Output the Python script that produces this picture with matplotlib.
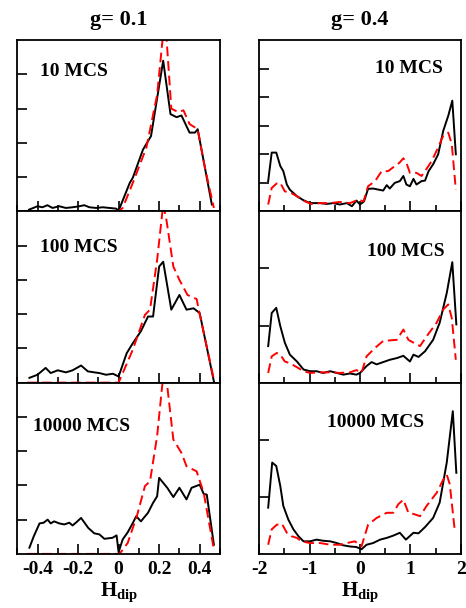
import matplotlib
matplotlib.use("Agg")
import matplotlib.pyplot as plt
from matplotlib.ticker import MultipleLocator, NullFormatter

plt.rcParams['font.family'] = ['Liberation Serif', 'DejaVu Serif']
plt.rcParams['font.weight'] = 'bold'
plt.rcParams['mathtext.fontset'] = 'custom'
plt.rcParams['mathtext.bf'] = 'Liberation Serif:bold'
plt.rcParams['mathtext.rm'] = 'Liberation Serif:bold'

# ---- data ----
titles = ["g= 0.1", "g= 0.4"]
labels = ["10 MCS", "100 MCS", "10000 MCS"]

# g = 0.1, 10 MCS
a1_bx = [-0.442, -0.40, -0.376, -0.351, -0.326, -0.293, -0.26, -0.227, -0.194, -0.169,
         -0.144, -0.111, -0.078, -0.045, -0.012, 0.0, 0.055, 0.07, 0.12, 0.16, 0.19,
         0.22, 0.256, 0.286, 0.31, 0.35, 0.377, 0.39, 0.426, 0.46]
a1_by = [0.05, 0.15, 0.12, 0.18, 0.10, 0.15, 0.10, 0.12, 0.15, 0.18,
         0.12, 0.10, 0.12, 0.10, 0.08, 0.02, 0.83, 0.98, 1.8, 2.2, 3.3,
         4.4, 2.84, 2.75, 2.8, 2.3, 2.3, 2.4, 1.27, 0.2]
a1_rx = [-0.45, 0.0, 0.02, 0.07, 0.137, 0.19, 0.22, 0.236, 0.26, 0.294, 0.32, 0.35,
         0.39, 0.426, 0.47]
a1_ry = [0.0, 0.0, 0.1, 0.83, 1.86, 3.4, 5.2, 5.1, 3.0, 2.9, 2.95, 2.55,
         2.4, 1.27, 0.1]

# g = 0.1, 100 MCS
a2_bx = [-0.44, -0.40, -0.36, -0.335, -0.30, -0.26, -0.227, -0.185, -0.152, -0.12,
         -0.095, -0.062, -0.028, 0.0, 0.04, 0.07, 0.11, 0.145, 0.17, 0.20, 0.22,
         0.26, 0.30, 0.335, 0.37, 0.40, 0.47]
a2_by = [0.14, 0.23, 0.43, 0.28, 0.36, 0.30, 0.36, 0.50, 0.33, 0.30,
         0.28, 0.23, 0.26, 0.18, 0.86, 1.15, 1.5, 1.93, 1.93, 3.39, 3.53,
         2.13, 2.56, 2.13, 2.17, 2.03, 0.04]
a2_rx = [-0.45, 0.0, 0.07, 0.13, 0.155, 0.19, 0.22, 0.236, 0.27, 0.30, 0.34, 0.385,
         0.40, 0.47]
a2_ry = [0.0, 0.0, 0.96, 1.98, 2.13, 3.58, 5.2, 4.75, 3.39, 3.0, 2.56, 2.44,
         2.0, 0.09]

# g = 0.1, 10000 MCS
a3_bx = [-0.44, -0.418, -0.39, -0.37, -0.35, -0.335, -0.318, -0.293, -0.268, -0.243,
         -0.227, -0.207, -0.185, -0.15, -0.12, -0.095, -0.07, -0.03, -0.01, 0.0,
         0.02, 0.045, 0.07, 0.087, 0.11, 0.145, 0.17, 0.19, 0.20, 0.24, 0.27,
         0.30, 0.335, 0.36, 0.40, 0.42, 0.435, 0.47]
a3_by = [0.18, 0.52, 0.89, 0.91, 1.0, 0.89, 0.95, 0.89, 0.86, 0.91,
         0.83, 0.93, 1.05, 0.76, 0.60, 0.57, 0.44, 0.47, 0.54, 0.05,
         0.42, 0.63, 0.90, 1.10, 0.95, 1.2, 1.49, 1.68, 2.22, 1.93, 1.66,
         1.93, 1.59, 1.93, 2.02, 1.75, 1.73, 0.27]
a3_rx = [-0.45, 0.005, 0.045, 0.09, 0.13, 0.155, 0.19, 0.22, 0.24, 0.27, 0.31,
         0.335, 0.385, 0.42, 0.47]
a3_ry = [0.0, 0.0, 0.32, 1.1, 1.98, 2.12, 3.44, 5.2, 4.9, 3.34, 2.95,
         2.56, 2.41, 1.78, 0.13]

# g = 0.4, 10 MCS
b1_bx = [-1.82, -1.75, -1.66, -1.58, -1.52, -1.45, -1.39, -1.25, -1.12, -0.99, -0.79,
         -0.66, -0.53, -0.40, -0.26, -0.16, -0.07, 0.0, 0.08, 0.16, 0.26, 0.46, 0.53,
         0.59, 0.69, 0.79, 0.86, 0.92, 0.99, 1.06, 1.12, 1.22, 1.29, 1.36, 1.45,
         1.55, 1.65, 1.75, 1.83, 1.90]
b1_by = [1.06, 2.06, 2.06, 1.59, 1.41, 0.94, 0.76, 0.53, 0.39, 0.29, 0.29,
         0.26, 0.29, 0.24, 0.29, 0.18, 0.38, 0.24, 0.35, 0.79, 0.80, 0.73, 0.92,
         0.80, 1.0, 1.06, 1.24, 0.94, 0.88, 1.14, 0.94, 1.06, 1.08, 1.41, 1.65,
         2.0, 2.82, 3.35, 3.88, 2.0]
b1_rx = [-1.82, -1.75, -1.65, -1.58, -1.49, -1.39, -1.25, -1.09, -0.96, -0.79, -0.59,
         -0.40, -0.20, -0.03, 0.07, 0.16, 0.30, 0.43, 0.56, 0.69, 0.78, 0.86, 0.92,
         0.99, 1.12, 1.22, 1.29, 1.42, 1.55, 1.65, 1.75, 1.82, 1.90]
b1_ry = [0.24, 0.82, 0.98, 1.0, 0.70, 0.67, 0.53, 0.35, 0.26, 0.29, 0.29,
         0.33, 0.29, 0.41, 0.35, 0.88, 1.06, 1.41, 1.41, 1.59, 1.70, 1.86, 1.70,
         1.35, 1.35, 1.24, 1.41, 1.76, 2.24, 2.65, 2.76, 2.35, 0.76]

# g = 0.4, 100 MCS
b2_bx = [-1.82, -1.75, -1.66, -1.58, -1.49, -1.39, -1.25, -1.12, -0.99, -0.86, -0.73,
         -0.59, -0.46, -0.33, -0.20, -0.07, 0.0, 0.13, 0.23, 0.33, 0.46, 0.59, 0.73,
         0.86, 0.99, 1.06, 1.16, 1.29, 1.45, 1.58, 1.72, 1.83, 1.91]
b2_by = [0.64, 1.22, 1.31, 0.99, 0.70, 0.49, 0.37, 0.23, 0.20, 0.20, 0.17,
         0.20, 0.17, 0.14, 0.16, 0.14, 0.17, 0.29, 0.36, 0.32, 0.36, 0.40, 0.43,
         0.47, 0.37, 0.49, 0.45, 0.55, 0.75, 1.05, 1.57, 2.11, 1.02]
b2_rx = [-1.82, -1.75, -1.65, -1.58, -1.49, -1.39, -1.25, -1.12, -0.99, -0.79, -0.59,
         -0.40, -0.20, -0.07, 0.03, 0.13, 0.30, 0.46, 0.73, 0.86, 0.96, 1.06, 1.19,
         1.32, 1.52, 1.65, 1.75, 1.82, 1.90]
b2_ry = [0.17, 0.46, 0.52, 0.49, 0.37, 0.34, 0.27, 0.20, 0.17, 0.18, 0.18,
         0.17, 0.18, 0.22, 0.17, 0.46, 0.61, 0.73, 0.75, 0.93, 0.75, 0.70, 0.64,
         0.81, 1.05, 1.28, 1.37, 1.13, 0.40]

# g = 0.4, 10000 MCS
b3_bx = [-1.82, -1.74, -1.66, -1.58, -1.52, -1.42, -1.32, -1.22, -1.12, -0.99, -0.86,
         -0.73, -0.59, -0.46, -0.33, -0.20, -0.07, 0.03, 0.13, 0.26, 0.40, 0.53, 0.66,
         0.79, 0.91, 1.06, 1.16, 1.29, 1.45, 1.58, 1.72, 1.84, 1.91]
b3_by = [0.81, 1.60, 1.54, 1.19, 0.84, 0.60, 0.43, 0.31, 0.22, 0.22, 0.25,
         0.23, 0.22, 0.19, 0.15, 0.13, 0.12, 0.08, 0.16, 0.19, 0.25, 0.28, 0.32,
         0.37, 0.25, 0.37, 0.36, 0.47, 0.63, 0.90, 1.60, 2.50, 1.42]
b3_rx = [-1.82, -1.75, -1.65, -1.55, -1.45, -1.36, -1.25, -1.16, -0.99, -0.79, -0.59,
         -0.40, -0.26, -0.10, 0.03, 0.16, 0.33, 0.53, 0.66, 0.76, 0.86, 0.96, 1.06,
         1.19, 1.32, 1.52, 1.65, 1.72, 1.78, 1.88]
b3_ry = [0.16, 0.43, 0.51, 0.53, 0.37, 0.31, 0.28, 0.22, 0.19, 0.19, 0.16,
         0.16, 0.19, 0.22, 0.13, 0.51, 0.63, 0.72, 0.72, 0.87, 0.95, 0.72, 0.70,
         0.66, 0.84, 1.07, 1.30, 1.39, 1.22, 0.40]

left_curves = [(a1_bx, a1_by, a1_rx, a1_ry), (a2_bx, a2_by, a2_rx, a2_ry),
               (a3_bx, a3_by, a3_rx, a3_ry)]
right_curves = [(b1_bx, b1_by, b1_rx, b1_ry), (b2_bx, b2_by, b2_rx, b2_ry),
                (b3_bx, b3_by, b3_rx, b3_ry)]

# ---- figure ----
fig = plt.figure(figsize=(4.66, 6.08), dpi=100)
gl = fig.add_gridspec(3, 1, left=0.037, right=0.472, top=0.934, bottom=0.089, hspace=0)
gr = fig.add_gridspec(3, 1, left=0.556, right=0.989, top=0.934, bottom=0.089, hspace=0)

left_ylim = [5, 5, 5]
right_ylim = [6, 3, 3]
left_lab = [(0.11, 0.79, 'left'), (0.11, 0.76, 'left'), (0.08, 0.72, 'left')]
right_lab = [(0.91, 0.81, 'right'), (0.92, 0.74, 'right'), (0.82, 0.74, 'right')]

for col, (gs, curves, ylims, labpos) in enumerate(
        [(gl, left_curves, left_ylim, left_lab), (gr, right_curves, right_ylim, right_lab)]):
    for row in range(3):
        ax = fig.add_subplot(gs[row])
        bx, by, rx, ry = curves[row]
        ax.plot(bx, by, color='black', lw=1.4)
        ax.plot(rx, ry, color='red', lw=1.4, dashes=(5, 2.5))
        ax.set_ylim(0, ylims[row])
        ax.set_yticks(range(1, ylims[row]))
        ax.yaxis.set_major_formatter(NullFormatter())
        if col == 0:
            ax.set_xlim(-0.5, 0.5)
            ax.xaxis.set_major_locator(MultipleLocator(0.2))
            ax.xaxis.set_minor_locator(MultipleLocator(0.1))
        else:
            ax.set_xlim(-2, 2)
            ax.xaxis.set_major_locator(MultipleLocator(1))
            ax.xaxis.set_minor_locator(MultipleLocator(0.5))
        ax.tick_params(direction='in', which='major', length=7, width=1.2,
                       labelsize=14, pad=5, top=False, right=False)
        ax.tick_params(direction='in', which='minor', length=4, width=1.2,
                       top=False, right=False)
        for s in ax.spines.values():
            s.set_linewidth(1.3)
        if row < 2:
            ax.xaxis.set_major_formatter(NullFormatter())
        else:
            if col == 0:
                ax.set_xticks([-0.4, -0.2, 0, 0.2, 0.4])
                ax.set_xticklabels(['-0.4', '-0.2', '0', '0.2', '0.4'])
            else:
                ax.set_xticks([-2, -1, 0, 1, 2])
                ax.set_xticklabels(['-2', '-1', '0', '1', '2'])
            ax.set_xlabel(r'$\mathbf{H}_{\mathbf{dip}}$', fontsize=15, labelpad=2)
        if row == 0:
            ax.set_title(titles[col], fontsize=16, fontweight='bold', pad=11)
        x, y, ha = labpos[row]
        ax.text(x, y, labels[row], transform=ax.transAxes, ha=ha, va='baseline',
                fontsize=14, fontweight='bold')

fig.savefig('out.png', dpi=100)
